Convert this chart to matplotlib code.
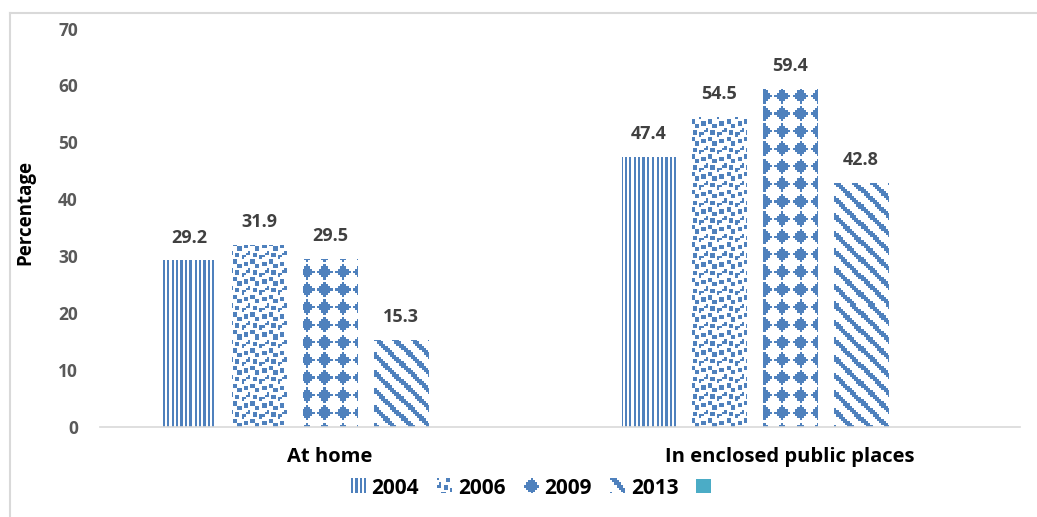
import numpy as np
import matplotlib
matplotlib.use("Agg")
import matplotlib.pyplot as plt
from matplotlib.colors import to_rgb
from matplotlib.patches import Patch
from matplotlib.legend_handler import HandlerBase
from matplotlib.image import BboxImage
from matplotlib.transforms import Bbox, TransformedBbox
from matplotlib.lines import Line2D

# ---- data -------------------------------------------------------------
categories = ["At home", "In enclosed public places"]
series_names = ["2004", "2006", "2009", "2013", ""]
values_2004 = [29.2, 47.4]
values_2006 = [31.9, 54.5]
values_2009 = [29.5, 59.4]
values_2013 = [15.3, 42.8]
values_blank = [np.nan, np.nan]
y_ticks = [0, 10, 20, 30, 40, 50, 60, 70]

# ---- style ------------------------------------------------------------
BLUE = "#4F81BD"
TEAL = "#4BACC6"
FONT = "Open Sans"
FIG_W, FIG_H, DPI = 10.37, 5.17, 100
SCALE = 2.2  # screen pixels per tile pixel

# 8x8 fill tiles, 1 = ink
TILE_NARROW_VERTICAL = np.array([[1, 0, 1, 0, 1, 0, 1, 0]] * 8)
TILE_LARGE_CONFETTI = np.array(
    [[int(b) for b in f"{v:08b}"] for v in (0x8D, 0x0C, 0x40, 0xD8, 0x1B, 0x02, 0x30, 0xB1)]
)
TILE_SOLID_DIAMOND = np.array([
    [0, 0, 0, 1, 0, 0, 0, 0],
    [0, 0, 1, 1, 1, 0, 0, 0],
    [0, 1, 1, 1, 1, 1, 0, 0],
    [1, 1, 1, 1, 1, 1, 1, 0],
    [0, 1, 1, 1, 1, 1, 0, 0],
    [0, 0, 1, 1, 1, 0, 0, 0],
    [0, 0, 0, 1, 0, 0, 0, 0],
    [0, 0, 0, 0, 0, 0, 0, 0],
])
_r, _c = np.indices((8, 8))
TILE_WIDE_DOWN_DIAG = (((_c - _r) % 8) < 3).astype(int)

tiles = [TILE_NARROW_VERTICAL, TILE_LARGE_CONFETTI, TILE_SOLID_DIAMOND, TILE_WIDE_DOWN_DIAG]


def pattern_rgb(tile, x0, y0, w, h, color):
    """Repeat a tile over a w x h pixel block whose top-left corner sits at
    (x0, y0) pixels from the figure's top-left corner."""
    ink = np.array(to_rgb(color))
    cols = np.floor((x0 + np.arange(w) + 0.5) / SCALE).astype(int) % 8
    rows = np.floor((y0 + np.arange(h) + 0.5) / SCALE).astype(int) % 8
    mask = tile[np.ix_(rows, cols)].astype(bool)
    img = np.ones((h, w, 3))
    img[mask] = ink
    return img


class TileHandler(HandlerBase):
    """Legend key filled with a tiled pattern."""

    def __init__(self, tile, color):
        super().__init__()
        self.tile = tile
        self.color = color

    def create_artists(self, legend, orig_handle, xdescent, ydescent,
                       width, height, fontsize, trans):
        bbox = TransformedBbox(Bbox.from_bounds(-xdescent, -ydescent, width, height), trans)
        w = max(int(round(width * DPI / 72)), 1)
        h = max(int(round(height * DPI / 72)), 1)
        img = BboxImage(bbox, interpolation="nearest")
        img.set_data(pattern_rgb(self.tile, 0, 0, w, h, self.color))
        return [img]


# ---- figure -----------------------------------------------------------
fig = plt.figure(figsize=(FIG_W, FIG_H), dpi=DPI)
W_PX, H_PX = FIG_W * DPI, FIG_H * DPI
ax_left, ax_right, ax_top, ax_bottom = 100, 1020, 28.5, 426.5
ax = fig.add_axes([ax_left / W_PX, 1 - ax_bottom / H_PX,
                   (ax_right - ax_left) / W_PX, (ax_bottom - ax_top) / H_PX])

# outer chart-area border (left and top edges visible)
fig.add_artist(Line2D([10 / W_PX, 10 / W_PX], [0, 1 - 13 / H_PX],
                      transform=fig.transFigure, color="#D9D9D9", lw=1.5))
fig.add_artist(Line2D([10 / W_PX, 1], [1 - 13 / H_PX, 1 - 13 / H_PX],
                      transform=fig.transFigure, color="#D9D9D9", lw=1.5))

all_values = [values_2004, values_2006, values_2009, values_2013, values_blank]
n_series = len(all_values)
x = np.arange(len(categories))
slot = 0.1533
bar_w = 0.1174

ax.set_xlim(-0.5, len(categories) - 0.5)
ax.set_ylim(0, 70)

containers = []
for i, vals in enumerate(all_values):
    offs = (i - (n_series - 1) / 2) * slot
    if i < 4:
        cont = ax.bar(x + offs, vals, width=bar_w, facecolor="none",
                      edgecolor="none", linewidth=0, zorder=3)
    else:
        cont = ax.bar(x + offs, vals, width=bar_w, color=TEAL, zorder=3)
    containers.append(cont)

# pattern fills, pixel-aligned to the figure grid
for tile, cont in zip(tiles, containers[:4]):
    for bar in cont:
        bx, bw, bh = bar.get_x(), bar.get_width(), bar.get_height()
        (px0, py0), (px1, py1) = ax.transData.transform([(bx, 0), (bx + bw, bh)])
        w = int(round(px1 - px0))
        h = int(round(py1 - py0))
        img = pattern_rgb(tile, px0, H_PX - py1, w, h, BLUE)
        im = ax.imshow(img, extent=(bx, bx + bw, 0, bh), aspect="auto",
                       interpolation="nearest", zorder=2)
        im.set_clip_path(bar)

ax.set_xlim(-0.5, len(categories) - 0.5)
ax.set_ylim(0, 70)

# value labels
for cont in containers[:4]:
    ax.bar_label(cont, fmt="%.1f", padding=10, fontsize=13, fontweight="bold",
                 color="#404040", family=FONT)

# axes styling
for side in ["left", "right", "top"]:
    ax.spines[side].set_visible(False)
ax.spines["bottom"].set_color("#D9D9D9")
ax.spines["bottom"].set_linewidth(1.2)

ax.set_yticks(y_ticks)
ax.set_yticklabels([str(t) for t in y_ticks], fontsize=12.5, fontweight="bold",
                   color="#595959", family=FONT)
ax.tick_params(axis="y", length=0, pad=16)
ax.set_xticks(x)
ax.set_xticklabels(categories, fontsize=14.5, fontweight="bold", color="black",
                   family=FONT)
ax.tick_params(axis="x", length=0, pad=15)

ax.set_ylabel("Percentage", fontsize=13.5, fontweight="bold", color="black",
              family=FONT)
ax.yaxis.set_label_coords((35 - ax_left) / (ax_right - ax_left),
                          (ax_bottom - 212) / (ax_bottom - ax_top))

# legend
handles = [Patch() for _ in range(4)] + [Patch(facecolor=TEAL, edgecolor="none")]
handler_map = {h: TileHandler(t, BLUE) for h, t in zip(handles[:4], tiles)}
ax.legend(handles, series_names, handler_map=handler_map, ncol=5,
          loc="center", bbox_to_anchor=(534 / W_PX, 1 - 488 / H_PX),
          bbox_transform=fig.transFigure, frameon=False,
          prop={"family": FONT, "weight": "bold", "size": 15},
          handlelength=0.72, handleheight=0.67, handletextpad=0.29,
          columnspacing=0.86, borderpad=0.2)

fig.savefig("out.png", dpi=DPI)
